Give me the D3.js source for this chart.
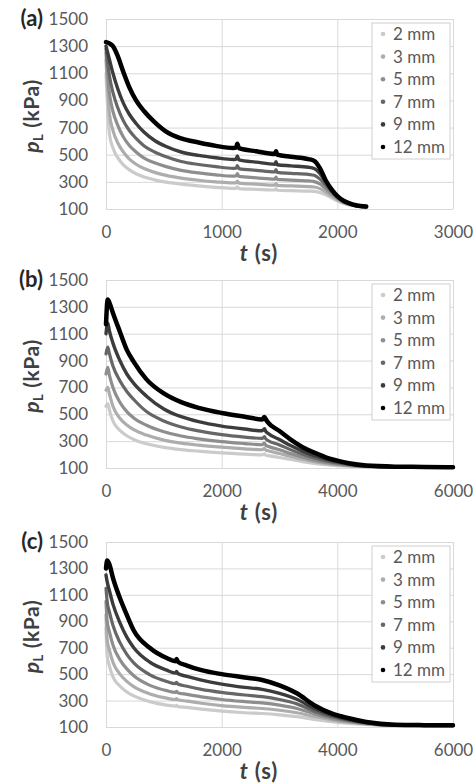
<!DOCTYPE html>
<html>
<head>
<meta charset="utf-8">
<script src="https://cdn.jsdelivr.net/npm/d3@7"></script>
<style>
  html, body { margin: 0; padding: 0; background: #fff; }
  svg { display: block; }
  text { font-family: Lato, "Open Sans", "Liberation Sans", sans-serif; }
</style>
</head>
<body>
<svg id="chart" width="475" height="783"></svg>
<script>
// Liner pressure p_L (kPa) against time t (s), one curve per size
const sizeLabels = ["2 mm", "3 mm", "5 mm", "7 mm", "9 mm", "12 mm"];
const pressureTicks = [100, 300, 500, 700, 900, 1100, 1300, 1500];
const timeTicksA = [0, 1000, 2000, 3000];
const timeTicksBC = [0, 2000, 4000, 6000];

// (a)
const timeA = [0, 30, 60, 100, 150, 200, 260, 330, 420, 520, 650, 800, 950, 1100, 1125, 1135,
  1150, 1300, 1460, 1470, 1480, 1600, 1750, 1800, 1850, 1900, 1950, 2000, 2050, 2100, 2160, 2250];
const pA2 = [1100, 650, 550, 480, 425, 390, 360, 336, 315, 298, 283, 270, 260, 252, 252, 264,
  250, 245, 240, 250, 238, 235, 232, 230, 222, 205, 182, 160, 142, 130, 121, 114];
const pA3 = [1200, 800, 680, 590, 520, 470, 430, 398, 370, 348, 328, 312, 300, 292, 292, 306,
  290, 283, 276, 288, 274, 270, 265, 262, 250, 225, 196, 170, 148, 134, 123, 115];
const pA5 = [1250, 950, 820, 720, 630, 570, 520, 475, 440, 412, 385, 366, 352, 342, 343, 360,
  340, 330, 320, 335, 318, 313, 307, 302, 285, 250, 212, 180, 153, 137, 124, 116];
const pA7 = [1280, 1080, 960, 850, 750, 680, 620, 565, 520, 485, 450, 428, 412, 400, 401, 420,
  398, 385, 373, 390, 370, 363, 355, 348, 320, 275, 228, 188, 158, 140, 125, 116];
const pA9 = [1300, 1200, 1100, 990, 880, 800, 730, 665, 605, 560, 520, 495, 478, 465, 466, 490,
  462, 445, 430, 448, 426, 418, 408, 398, 360, 300, 240, 195, 162, 142, 126, 117];
const pA12 = [1330, 1320, 1300, 1230, 1110, 1000, 900, 820, 740, 670, 620, 590, 565, 550, 552, 580,
  548, 525, 505, 525, 500, 485, 468, 455, 400, 310, 245, 195, 163, 144, 128, 118];

// (b)
const timeB = [0, 30, 60, 120, 240, 360, 480, 700, 1000, 1300, 1600, 2000, 2400, 2700, 2740,
  2760, 2800, 3000, 3200, 3400, 3600, 3800, 4000, 4200, 4500, 5000, 5500, 6000];
const pB2 = [560, 580, 530, 450, 380, 340, 312, 280, 254, 237, 225, 212, 203, 198, 206,
  196, 192, 178, 163, 148, 135, 125, 118, 113, 109, 106, 105, 104];
const pB3 = [680, 700, 650, 560, 470, 420, 385, 345, 308, 285, 270, 255, 243, 236, 246,
  234, 228, 208, 186, 165, 147, 134, 124, 117, 110, 107, 105, 104];
const pB5 = [800, 850, 790, 700, 590, 520, 472, 418, 370, 338, 317, 296, 282, 273, 285,
  271, 262, 236, 207, 181, 158, 141, 129, 120, 112, 107, 106, 105];
const pB7 = [950, 1000, 950, 860, 750, 670, 610, 520, 450, 405, 376, 348, 330, 320, 334,
  318, 305, 272, 235, 202, 174, 153, 137, 125, 114, 109, 107, 105];
const pB9 = [1100, 1180, 1120, 1030, 900, 800, 730, 635, 540, 482, 445, 412, 390, 377, 393,
  375, 358, 312, 265, 225, 192, 166, 146, 131, 116, 110, 107, 105];
const pB12 = [1170, 1355, 1330, 1255, 1115, 980, 890, 760, 655, 590, 548, 510, 482, 462, 480,
  465, 440, 375, 310, 255, 215, 180, 155, 135, 118, 110, 108, 106];

// (c)
const timeC = [0, 20, 60, 120, 240, 360, 480, 760, 1050, 1200, 1220, 1240, 1400, 1650, 2000,
  2400, 2700, 3000, 3300, 3600, 3900, 4200, 4500, 5000, 5500, 6000];
const pC2 = [850, 640, 560, 480, 410, 365, 335, 292, 266, 258, 263, 256, 248, 235, 220,
  208, 202, 192, 178, 158, 141, 128, 119, 111, 109, 108];
const pC3 = [950, 760, 680, 590, 500, 445, 405, 350, 318, 308, 314, 306, 296, 280, 262,
  248, 240, 227, 208, 180, 154, 136, 123, 112, 110, 109];
const pC5 = [1050, 900, 820, 720, 610, 540, 488, 415, 375, 362, 370, 360, 347, 328, 308,
  292, 282, 265, 240, 200, 165, 142, 126, 113, 111, 110];
const pC7 = [1150, 1050, 970, 870, 740, 650, 585, 495, 445, 428, 438, 425, 408, 385, 362,
  342, 330, 308, 275, 220, 178, 150, 130, 114, 112, 111];
const pC9 = [1250, 1200, 1130, 1030, 890, 780, 700, 590, 530, 508, 520, 505, 483, 455, 425,
  400, 385, 355, 310, 240, 190, 157, 133, 115, 113, 112];
const pC12 = [1300, 1360, 1330, 1228, 1076, 948, 830, 698, 622, 598, 615, 595, 565, 530, 500,
  475, 456, 415, 355, 265, 203, 166, 138, 117, 114, 113];

// ---- drawing ----
const svg = d3.select("#chart");
const left = 106, right = 453;
const shades = ["#cbcbcb", "#adadad", "#8e8e8e", "#666666", "#3c3c3c", "#000000"];
const strokeW = [3.2, 3.2, 3.2, 3.2, 3.4, 4.5];
const tickColor = "#595959";
const gridColor = "#d9d9d9";

const panels = [
  { tag: "(a)", top: 19, bottom: 209, xMax: 3000, xTicks: timeTicksA, t: timeA,
    series: [pA2, pA3, pA5, pA7, pA9, pA12] },
  { tag: "(b)", top: 280, bottom: 468, xMax: 6000, xTicks: timeTicksBC, t: timeB,
    series: [pB2, pB3, pB5, pB7, pB9, pB12] },
  { tag: "(c)", top: 542, bottom: 727, xMax: 6000, xTicks: timeTicksBC, t: timeC,
    series: [pC2, pC3, pC5, pC7, pC9, pC12] }
];

panels.forEach(pn => {
  const g = svg.append("g");
  const x = d3.scaleLinear().domain([0, pn.xMax]).range([left, right]);
  const y = d3.scaleLinear().domain([100, 1500]).range([pn.bottom, pn.top]);

  // grid
  g.append("g")
    .attr("transform", `translate(0,${pn.bottom})`)
    .call(d3.axisBottom(x).tickValues(pn.xTicks).tickSize(-(pn.bottom - pn.top)).tickFormat(""))
    .call(s => { s.select(".domain").remove(); s.selectAll("line").attr("stroke", gridColor); });
  g.append("g")
    .attr("transform", `translate(${left},0)`)
    .call(d3.axisLeft(y).tickValues(pressureTicks).tickSize(-(right - left)).tickFormat(""))
    .call(s => { s.select(".domain").remove(); s.selectAll("line").attr("stroke", gridColor); });

  // tick labels
  g.append("g")
    .attr("transform", `translate(0,${pn.bottom})`)
    .call(d3.axisBottom(x).tickValues(pn.xTicks).tickSize(0).tickPadding(17).tickFormat(d3.format("d")))
    .call(s => {
      s.select(".domain").remove();
      s.selectAll("text").attr("fill", tickColor).attr("font-size", 17);
    });
  g.append("g")
    .attr("transform", `translate(${left},0)`)
    .call(d3.axisLeft(y).tickValues(pressureTicks).tickSize(0).tickPadding(18).tickFormat(d3.format("d")))
    .call(s => {
      s.select(".domain").remove();
      s.selectAll("text").attr("fill", tickColor).attr("font-size", 17);
    });

  // curves
  const line = d3.line()
    .x((d, i) => x(pn.t[i]))
    .y(d => y(d))
    .curve(d3.curveMonotoneX);
  pn.series.forEach((vals, k) => {
    g.append("path")
      .attr("d", line(vals))
      .attr("fill", "none")
      .attr("stroke", shades[k])
      .attr("stroke-width", strokeW[k])
      .attr("stroke-linejoin", "round")
      .attr("stroke-linecap", "round");
  });

  // panel tag
  g.append("text")
    .attr("x", 43).attr("y", pn.top + 7)
    .attr("text-anchor", "end")
    .attr("font-size", 22).attr("font-weight", 700).attr("fill", "#262626")
    .text(pn.tag);

  // y title
  const yt = g.append("text")
    .attr("transform", `translate(39,${(pn.top + pn.bottom) / 2 + 2}) rotate(-90)`)
    .attr("text-anchor", "middle")
    .attr("font-size", 21).attr("font-weight", 700).attr("fill", "#404040")
    .attr("letter-spacing", 0.6);
  yt.append("tspan").attr("font-style", "italic").text("p");
  yt.append("tspan").attr("font-size", 13).attr("dy", 4).text("L");
  yt.append("tspan").attr("dy", -4).text(" (kPa)");

  // x title
  const xt = g.append("text")
    .attr("x", 259).attr("y", pn.bottom + 52)
    .attr("text-anchor", "middle")
    .attr("font-size", 22).attr("font-weight", 700).attr("fill", "#404040")
    .attr("letter-spacing", 0.8);
  xt.append("tspan").attr("font-style", "italic").text("t");
  xt.append("tspan").text(" (s)");

  // legend
  const lg = g.append("g").attr("transform", `translate(372,${pn.top + 4})`);
  lg.append("rect")
    .attr("width", 78).attr("height", 136)
    .attr("fill", "#fff").attr("stroke", "#d0d0d0");
  sizeLabels.forEach((lab, k) => {
    const row = lg.append("g").attr("transform", `translate(0,${11 + k * 22.6})`);
    row.append("circle").attr("cx", 11).attr("cy", 0).attr("r", 2.3).attr("fill", shades[k]);
    row.append("text").attr("x", 21).attr("y", 0).attr("dy", "0.35em")
      .attr("font-size", 17).attr("fill", tickColor).text(lab);
  });
});
</script>
</body>
</html>
